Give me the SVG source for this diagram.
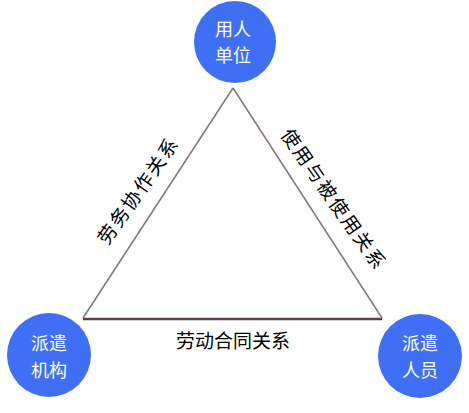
<svg xmlns="http://www.w3.org/2000/svg" width="469" height="413" viewBox="0 0 469 413">
<style>
.node{fill:#3f6ff4}
.nt{font-family:"Noto Sans CJK SC",sans-serif;font-size:18px;fill:#ffffff;text-anchor:middle}
.lbl{font-family:"Noto Sans CJK SC",sans-serif;font-size:19px;fill:#000000;text-anchor:middle}
</style>
<rect width="469" height="413" fill="#ffffff"/>
<g id="connectors">
<line x1="83" y1="318" x2="233" y2="88" stroke="#8a7880" stroke-width="1.6"/>
<line x1="233" y1="88" x2="382" y2="318" stroke="#8a7880" stroke-width="1.6"/>
<line x1="83" y1="319" x2="382" y2="319" stroke="#5c4048" stroke-width="2.6"/>
<text class="lbl" x="233" y="348">劳动合同关系</text>
<text class="lbl" transform="translate(139,191) rotate(-55)" x="0" y="6" style="letter-spacing:2px">劳务协作关系</text>
<text class="lbl" transform="translate(333,200) rotate(55)" x="0" y="6" style="letter-spacing:2px">使用与被使用关系</text>
</g>
<g id="n1">
<circle class="node" cx="235" cy="42" r="41"/>
<text class="nt" x="233" y="36">用人</text>
<text class="nt" x="233" y="62">单位</text>
</g>
<g id="n2">
<circle class="node" cx="49" cy="355" r="42"/>
<text class="nt" x="49" y="350">派遣</text>
<text class="nt" x="49" y="377">机构</text>
</g>
<g id="n3">
<circle class="node" cx="420" cy="356" r="42"/>
<text class="nt" x="420" y="350">派遣</text>
<text class="nt" x="420" y="377">人员</text>
</g>
</svg>
